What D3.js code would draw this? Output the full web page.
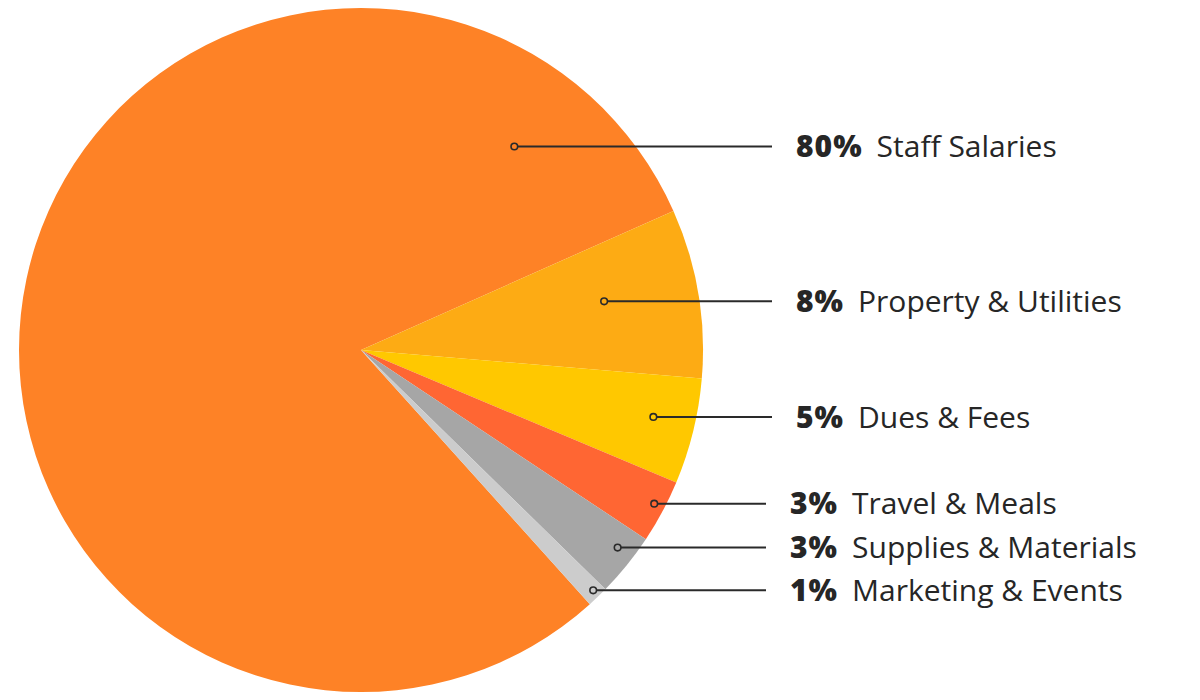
<!DOCTYPE html>
<html>
<head>
<meta charset="utf-8">
<script src="https://cdn.jsdelivr.net/npm/d3@7"></script>
<style>
  html, body { margin: 0; padding: 0; background: #fff; }
  svg { display: block; }
</style>
</head>
<body>
<svg id="chart"></svg>
<script>
const categories = ["Staff Salaries", "Property & Utilities", "Dues & Fees", "Travel & Meals", "Supplies & Materials", "Marketing & Events"];
const values = [80, 8, 5, 3, 3, 1];
const colors = ["#fe8226", "#fdab14", "#ffc800", "#ff6633", "#a6a6a6", "#cccccc"];

const width = 1200, height = 700;
const cx = 361, cy = 350, radius = 342;

// leader line start: position across the slice (0..1) and fraction of radius
const anchorT = [null, 0.44, 0.45, 0.45, 0.37, 0.44];
const anchorR = [0.745, 0.725, 0.877, 0.968, 0.947, 0.977];
const staffAngle = 37 * Math.PI / 180;

const svg = d3.select("#chart").attr("width", width).attr("height", height);
const g = svg.append("g").attr("transform", `translate(${cx},${cy})`);

// Property starts at ~66deg, so Staff (first slice) begins 288deg before that
const startA = (66 - 288) * Math.PI / 180;
const pie = d3.pie().sort(null).startAngle(startA).endAngle(startA + 2 * Math.PI);
const arcs = pie(values);
const arc = d3.arc().innerRadius(0).outerRadius(radius);

g.selectAll("path.slice")
  .data(arcs)
  .enter()
  .append("path")
  .attr("class", "slice")
  .attr("d", arc)
  .attr("fill", (d, i) => colors[i]);

// leader lines + markers
const anchors = arcs.map((d, i) => {
  let a = i === 0 ? staffAngle : d.startAngle + (d.endAngle - d.startAngle) * anchorT[i];
  let r = anchorR[i] * radius;
  return { x: Math.sin(a) * r, y: -Math.cos(a) * r, i: i };
});

const lineEnd = i => (i < 3 ? 772 : 766) - cx;

g.selectAll("line.leader")
  .data(anchors)
  .enter()
  .append("line")
  .attr("x1", d => d.x)
  .attr("y1", d => d.y)
  .attr("x2", d => lineEnd(d.i))
  .attr("y2", d => d.y)
  .attr("stroke", "#2a2a2a")
  .attr("stroke-width", 2);

g.selectAll("circle.marker")
  .data(anchors)
  .enter()
  .append("circle")
  .attr("cx", d => d.x)
  .attr("cy", d => d.y)
  .attr("r", 3.3)
  .attr("fill", d => colors[d.i])
  .attr("stroke", "#2a2a2a")
  .attr("stroke-width", 1.6);

const labels = g.selectAll("text.label")
  .data(anchors)
  .enter()
  .append("text")
  .attr("class", "label")
  .attr("x", d => lineEnd(d.i) + 24)
  .attr("y", d => d.y)
  .attr("dy", "0.36em")
  .attr("font-family", "'Open Sans', sans-serif")
  .attr("font-size", 30)
  .attr("fill", "#262626");

labels.append("tspan")
  .attr("font-weight", 800)
  .attr("letter-spacing", 1)
  .text(d => values[d.i] + "%");

labels.append("tspan")
  .attr("dx", 14)
  .attr("font-weight", 400)
  .attr("letter-spacing", 0)
  .text(d => categories[d.i]);
</script>
</body>
</html>
